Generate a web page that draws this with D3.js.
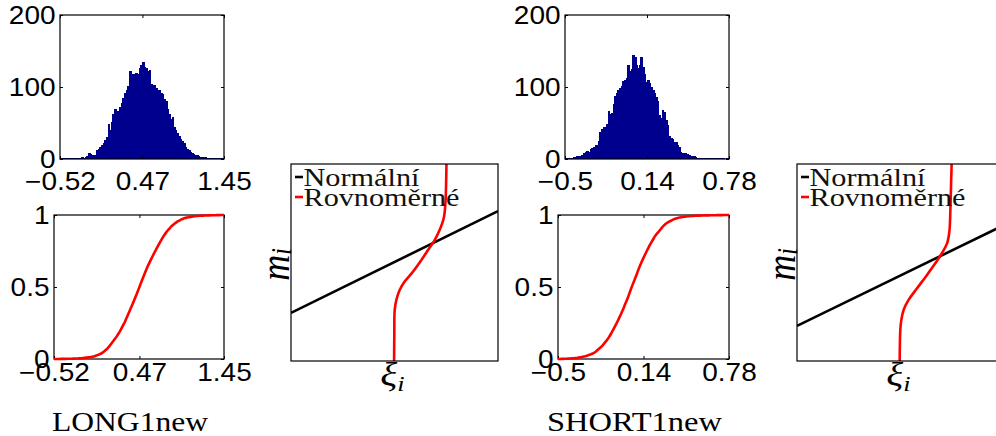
<!DOCTYPE html>
<html>
<head>
<meta charset="utf-8">
<script src="https://cdn.jsdelivr.net/npm/d3@7"></script>
<style>
  html, body { margin: 0; padding: 0; background: #fff; }
  svg { display: block; }
</style>
</head>
<body>
<svg id="fig" width="996" height="436"></svg>
<script>
// ---------- data ----------
// LONG1new: sample histogram (100 equal-width bins over the sample range)
const longRange = [-0.52, 1.45];
const longTicks = [-0.52, 0.47, 1.45];
const longCounts = [
  1, 0, 1, 1, 0, 1, 1, 1, 2, 1, 1, 2,
  2, 3, 2, 3, 4, 9, 7, 5, 6, 5,
  12, 14, 17, 20, 22, 26, 30, 48, 40, 52,
  63, 70, 64, 66, 72, 78, 85, 92, 96, 102,
  122, 112, 118, 114, 120, 118, 126, 131, 135, 128,
  126, 122, 124, 104, 100, 103, 98, 94, 96, 92,
  90, 84, 80, 70, 62, 56, 58, 44, 40, 36,
  32, 28, 25, 22, 17, 14, 12, 10, 8, 7,
  5, 5, 4, 3, 3, 2, 3, 2, 2, 1,
  2, 1, 1, 2, 1, 1, 1, 1
];

// SHORT1new: sample histogram (100 equal-width bins over the sample range)
const shortRange = [-0.5, 0.78];
const shortTicks = [-0.5, 0.14, 0.78];
const shortCounts = [
  2, 2, 1, 2, 2, 3, 3, 4, 4, 3, 5,
  9, 10, 11, 10, 14, 15, 16, 19, 20, 25,
  38, 41, 44, 45, 48, 66, 62, 64, 76, 88,
  92, 96, 99, 101, 108, 110, 113, 130, 122, 125,
  144, 141, 130, 126, 131, 142, 128, 118, 107,
  110, 105, 100, 96, 91, 86, 80, 61, 57, 68,
  65, 54, 47, 32, 29, 28, 24, 23, 19, 17,
  10, 9, 8, 8, 7, 6, 4, 4, 4, 3,
  2, 2, 2, 2, 1, 2, 1, 1, 2, 1,
  1, 1, 1, 0, 1, 1, 1, 0, 1, 1
];

const histTicks = [0, 100, 200];
const histMax = 200;
const cdfTicks = [0, 0.5, 1];
const titles = ["LONG1new", "SHORT1new"];
const seriesNames = ["Normální", "Rovnoměrné"];

// transformation m_i(xi_i) in unit coordinates: [xi, m]
const longNormal = [[0, 0.244], [1, 0.761]];
const longUniform = [
  [0.498, 0], [0.499, 0.13], [0.501, 0.259], [0.509, 0.31], [0.525, 0.36],
  [0.549, 0.403], [0.589, 0.453], [0.63, 0.513], [0.662, 0.563], [0.694, 0.614],
  [0.718, 0.665], [0.738, 0.726], [0.746, 0.802], [0.749, 0.885], [0.751, 1]
];
const shortNormal = [[0, 0.178], [1, 0.69]];
const shortUniform = [
  [0.496, 0], [0.497, 0.08], [0.499, 0.157], [0.504, 0.208], [0.515, 0.259],
  [0.539, 0.31], [0.58, 0.369], [0.628, 0.437], [0.668, 0.496], [0.7, 0.547],
  [0.725, 0.597], [0.736, 0.656], [0.741, 0.766], [0.744, 0.885], [0.747, 1]
];

// ---------- layout & style ----------
const layout = {
  long:  { hist: {x: 60,  y: 15, w: 164, h: 144}, cdf: {x: 54,  y: 215, w: 170, h: 144}, map: {x: 291, y: 164, w: 207, h: 197} },
  short: { hist: {x: 565, y: 15, w: 164, h: 144}, cdf: {x: 558, y: 215, w: 171, h: 144}, map: {x: 797, y: 164, w: 207, h: 197} }
};
const barColor = "#00008f";
const sansFont = "'Liberation Sans', Arial, Helvetica, sans-serif";
const serifFont = "'Liberation Serif', 'Times New Roman', serif";
const stretch = 1.12;

const svg = d3.select("#fig");
const defs = svg.append("defs");
let clipId = 0;

const fmtNum = d => (d < 0 ? "\u2212" : "") + Math.abs(d);

function clipFor(r) {
  const id = "clip" + (clipId++);
  defs.append("clipPath").attr("id", id)
    .append("rect").attr("x", r.x).attr("y", r.y).attr("width", r.w).attr("height", r.h);
  return "url(#" + id + ")";
}

function styleAxis(g) {
  g.select(".domain").remove();
  g.attr("font-family", sansFont).attr("font-size", 25);
  g.selectAll(".tick line").attr("stroke", "#000");
  g.selectAll(".tick text").attr("fill", "#000").attr("transform", `scale(${stretch},1)`);
}

// box with inward ticks on all four sides, labels on bottom/left
function frame(r, xs, ys, xt, yt, xPad, yPad) {
  const g = svg.append("g");
  if (xt) {
    g.append("g").attr("transform", `translate(0,${r.y + r.h})`)
      .call(d3.axisBottom(xs).tickValues(xt).tickSize(-3).tickPadding(xPad).tickFormat(fmtNum))
      .call(styleAxis);
    g.append("g").attr("transform", `translate(0,${r.y})`)
      .call(d3.axisTop(xs).tickValues(xt).tickSize(-3).tickFormat(""))
      .call(styleAxis);
  }
  if (yt) {
    g.append("g").attr("transform", `translate(${r.x},0)`)
      .call(d3.axisLeft(ys).tickValues(yt).tickSize(-3).tickPadding(yPad).tickFormat(fmtNum))
      .call(styleAxis);
    g.append("g").attr("transform", `translate(${r.x + r.w},0)`)
      .call(d3.axisRight(ys).tickValues(yt).tickSize(-3).tickFormat(""))
      .call(styleAxis);
  }
  g.append("rect").attr("x", r.x).attr("y", r.y).attr("width", r.w).attr("height", r.h)
    .attr("fill", "none").attr("stroke", "#000").attr("stroke-width", 1.2);
}

function histogram(r, range, ticks, counts) {
  const x = d3.scaleLinear().domain(range).range([r.x, r.x + r.w]);
  const y = d3.scaleLinear().domain([0, histMax]).range([r.y + r.h, r.y]);
  const bw = (range[1] - range[0]) / counts.length;
  svg.append("g").attr("clip-path", clipFor(r)).attr("shape-rendering", "crispEdges")
    .selectAll("rect")
    .data(counts).join("rect")
    .attr("x", (d, i) => x(range[0] + i * bw))
    .attr("width", (d, i) => x(range[0] + (i + 1) * bw) - x(range[0] + i * bw) + 1)
    .attr("y", d => y(d))
    .attr("height", d => y(0) - y(d))
    .attr("fill", barColor);
  frame(r, x, y, ticks, histTicks, 13, 4);
}

function cdf(r, range, ticks, counts, title) {
  const x = d3.scaleLinear().domain(range).range([r.x, r.x + r.w]);
  const y = d3.scaleLinear().domain([0, 1]).range([r.y + r.h, r.y]);
  const bw = (range[1] - range[0]) / counts.length;
  const total = d3.sum(counts);
  const cum = d3.cumsum(counts);
  const pts = [[range[0], 0]].concat(counts.map((c, i) => [range[0] + (i + 1) * bw, cum[i] / total]));
  frame(r, x, y, ticks, cdfTicks, 4, 4);
  svg.append("path").datum(pts)
    .attr("d", d3.line().x(d => x(d[0])).y(d => y(d[1])).curve(d3.curveBasis))
    .attr("fill", "none").attr("stroke", "#ff0000").attr("stroke-width", 2.6);
  const tw = title === "LONG1new" ? 156 : 175;
  svg.append("text")
    .attr("x", r.x + r.w / 2 - 9 - tw / 2).attr("y", 431)
    .attr("font-family", serifFont).attr("font-size", 27)
    .attr("textLength", tw).attr("lengthAdjust", "spacingAndGlyphs")
    .text(title);
}

function mapping(r, normal, uniform) {
  const x = d3.scaleLinear().domain([0, 1]).range([r.x, r.x + r.w]);
  const y = d3.scaleLinear().domain([0, 1]).range([r.y + r.h, r.y]);
  const clip = clipFor(r);
  const g = svg.append("g").attr("clip-path", clip);
  g.append("path").datum(normal)
    .attr("d", d3.line().x(d => x(d[0])).y(d => y(d[1])))
    .attr("fill", "none").attr("stroke", "#000").attr("stroke-width", 2.6);
  g.append("path").datum(uniform)
    .attr("d", d3.line().x(d => x(d[0])).y(d => y(d[1])).curve(d3.curveCatmullRom.alpha(0.5)))
    .attr("fill", "none").attr("stroke", "#ff0000").attr("stroke-width", 2.6);
  frame(r, x, y, null, null);

  // legend
  const colors = ["#000", "#ff0000"];
  const widths = [116, 156];
  seriesNames.forEach((name, i) => {
    const base = r.y + 22 + i * 20;
    svg.append("line")
      .attr("x1", r.x + 4).attr("x2", r.x + 12)
      .attr("y1", base - 9).attr("y2", base - 9)
      .attr("stroke", colors[i]).attr("stroke-width", 2.6);
    svg.append("text")
      .attr("x", r.x + 12.5).attr("y", base)
      .attr("font-family", serifFont).attr("font-size", 26)
      .attr("textLength", widths[i]).attr("lengthAdjust", "spacingAndGlyphs")
      .attr("fill", "#111")
      .text(name);
  });

  // axis symbols
  const xl = svg.append("text")
    .attr("transform", `translate(${r.x + r.w / 2 - 2},${r.y + r.h + 25}) scale(1.2,1)`)
    .attr("text-anchor", "middle")
    .attr("font-family", serifFont).attr("font-style", "italic").attr("font-size", 33);
  xl.append("tspan").text("ξ");
  xl.append("tspan").attr("font-size", 22).attr("dy", 5).text("i");

  const yl = svg.append("text")
    .attr("transform", `translate(${r.x - 2},${r.y + r.h / 2 + 2}) scale(1.2,1) rotate(-90)`)
    .attr("text-anchor", "middle")
    .attr("font-family", serifFont).attr("font-style", "italic").attr("font-size", 36);
  yl.append("tspan").text("m");
  yl.append("tspan").attr("font-size", 24).attr("dy", 2).text("i");
}

histogram(layout.long.hist, longRange, longTicks, longCounts);
cdf(layout.long.cdf, longRange, longTicks, longCounts, titles[0]);
mapping(layout.long.map, longNormal, longUniform);

histogram(layout.short.hist, shortRange, shortTicks, shortCounts);
cdf(layout.short.cdf, shortRange, shortTicks, shortCounts, titles[1]);
mapping(layout.short.map, shortNormal, shortUniform);
</script>
</body>
</html>
